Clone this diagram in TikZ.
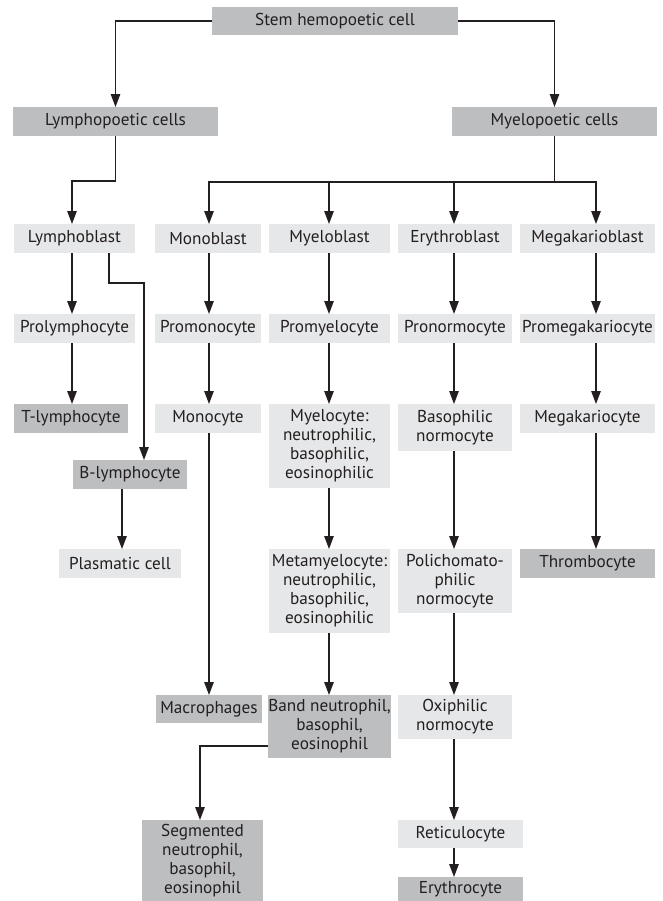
\documentclass[tikz,border=0pt]{standalone}
\usepackage{fontspec}
\setmainfont{PT Sans}
\usetikzlibrary{arrows.meta}
\definecolor{lightbox}{HTML}{E6E7E8}
\definecolor{darkbox}{HTML}{BCBEC0}
\definecolor{inkc}{HTML}{231F20}
\begin{document}
\begin{tikzpicture}[x=1bp,y=-1bp,
  box/.style={inner sep=0pt, outer sep=0pt, align=center, text=inkc,
    font=\fontsize{17.2bp}{18.9bp}\selectfont},
  lt/.style={box, fill=lightbox},
  dk/.style={box, fill=darkbox},
  wire/.style={draw=inkc, line width=1.2bp},
  arr/.style={wire, -{Triangle[length=13bp,width=9.5bp]}},
  darr/.style={wire, {Triangle[length=13bp,width=9.5bp]}-{Triangle[length=13bp,width=9.5bp]}}
]
\useasboundingbox (0,0) rectangle (663,901);
\fill[white] (0,0) rectangle (663,901);

% top level
\node[dk, minimum width=246bp, minimum height=28bp] (stem) at (335,21) {Stem hemopoetic cell};
\node[dk, minimum width=205bp, minimum height=29bp] (lymph) at (115.5,121.5) {Lymphopoetic cells};
\node[dk, minimum width=205bp, minimum height=29bp] (myelo) at (554.5,121.5) {Myelopoetic cells};

% row 1
\node[lt, minimum width=121bp, minimum height=29bp] (lblast) at (74.5,238.5) {Lymphoblast};
\node[lt, minimum width=106bp, minimum height=29bp] (mblast) at (208,238.5) {Monoblast};
\node[lt, minimum width=121bp, minimum height=29bp] (myblast) at (329.5,238.5) {Myeloblast};
\node[lt, minimum width=114bp, minimum height=29bp] (eblast) at (455,238.5) {Erythroblast};
\node[lt, minimum width=135bp, minimum height=29bp] (mkblast) at (587.5,238.5) {Megakarioblast};

% row 2
\node[lt, minimum width=121bp, minimum height=29bp] (prolym) at (74.5,328.5) {Prolymphocyte};
\node[lt, minimum width=106bp, minimum height=29bp] (promono) at (208,328.5) {Promonocyte};
\node[lt, minimum width=121bp, minimum height=29bp] (promy) at (329.5,328.5) {Promyelocyte};
\node[lt, minimum width=114bp, minimum height=29bp] (pronorm) at (455,328.5) {Pronormocyte};
\node[lt, minimum width=135bp, minimum height=29bp] (promk) at (587.5,328.5) {Promegakariocyte};

% row 3
\node[dk, minimum width=114bp, minimum height=29bp] (tlym) at (71,418.5) {T-lymphocyte};
\node[lt, minimum width=106bp, minimum height=29bp] (mono) at (208,418.5) {Monocyte};
\node[lt, minimum width=121bp, minimum height=84bp] (myelocyte) at (329.5,446) {Myelocyte:\\neutrophilic,\\basophilic,\\eosinophilic};
\node[lt, minimum width=114bp, minimum height=47bp] (basnorm) at (455,427.5) {Basophilic\\normocyte};
\node[lt, minimum width=135bp, minimum height=29bp] (mkcyte) at (587.5,418.5) {Megakariocyte};
\node[dk, minimum width=114bp, minimum height=29bp] (blym) at (130,474.5) {B-lymphocyte};

% row 4
\node[lt, minimum width=122bp, minimum height=29bp] (plasma) at (120,563.5) {Plasmatic cell};
\node[lt, minimum width=121bp, minimum height=84bp] (meta) at (329.5,591) {Metamyelocyte:\\neutrophilic,\\basophilic,\\eosinophilic};
\node[lt, minimum width=114bp, minimum height=64bp] (poli) at (455,581) {Polichomato-\\philic\\normocyte};
\node[dk, minimum width=135bp, minimum height=29bp] (thromb) at (587.5,563.5) {Thrombocyte};

% row 5
\node[dk, minimum width=106bp, minimum height=28bp] (macro) at (209,709) {Macrophages};
\node[dk, minimum width=121bp, minimum height=63bp] (band) at (329.5,726.5) {Band neutrophil,\\basophil,\\eosinophil};
\node[lt, minimum width=114bp, minimum height=44bp] (oxi) at (455,717) {Oxiphilic\\normocyte};

% bottom
\node[dk, minimum width=121bp, minimum height=81bp] (seg) at (202.5,860.5) {Segmented\\neutrophil,\\basophil,\\eosinophil};
\node[lt, minimum width=125bp, minimum height=28bp] (reti) at (460.5,834) {Reticulocyte};
\node[dk, minimum width=125bp, minimum height=24bp] (ery) at (460.5,889) {Erythrocyte};

% helper coordinates
\coordinate (lbus) at (0,181);
\coordinate (mbus) at (0,182);
\coordinate (bj) at (0,283);
\coordinate (sj) at (0,746);
\coordinate (c1) at (72,0);
\coordinate (c1b) at (109,0);
\coordinate (c1c) at (144,0);
\coordinate (c1p) at (122,0);
\coordinate (c2) at (209,0);
\coordinate (c3) at (329,0);
\coordinate (c4) at (454,0);
\coordinate (c5) at (596,0);
\coordinate (c6) at (200,0);

% connectors from stem
\draw[arr] (stem.west) -| (lymph.north);
\draw[arr] (stem.east) -| (myelo.north);

% lymphoid branch
\draw[arr] (lymph.south) -- (lymph.south |- lbus) -- (c1 |- lbus) -- (c1 |- lblast.north);
\draw[arr] (c1 |- lblast.south) -- (c1 |- prolym.north);
\draw[arr] (c1 |- prolym.south) -- (c1 |- tlym.north);
\draw[arr] (c1b |- lblast.south) -- (c1b |- bj) -- (c1c |- bj) -- (c1c |- blym.north);
\draw[arr] (c1p |- blym.south) -- (c1p |- plasma.north);

% myeloid bus
\draw[wire] (myelo.south) -- (myelo.south |- mbus);
\draw[darr] (c2 |- mblast.north) -- (c2 |- mbus) -- (c5 |- mbus) -- (c5 |- mkblast.north);
\draw[arr] (c3 |- mbus) -- (c3 |- myblast.north);
\draw[arr] (c4 |- mbus) -- (c4 |- eblast.north);

% monocyte column
\draw[arr] (c2 |- mblast.south) -- (c2 |- promono.north);
\draw[arr] (c2 |- promono.south) -- (c2 |- mono.north);
\draw[arr] (c2 |- mono.south) -- (c2 |- macro.north);

% granulocyte column
\draw[arr] (c3 |- myblast.south) -- (c3 |- promy.north);
\draw[arr] (c3 |- promy.south) -- (c3 |- myelocyte.north);
\draw[arr] (c3 |- myelocyte.south) -- (c3 |- meta.north);
\draw[arr] (c3 |- meta.south) -- (c3 |- band.north);
\draw[arr] (band.west |- sj) -- (c6 |- sj) -- (c6 |- seg.north);

% erythroid column
\draw[arr] (c4 |- eblast.south) -- (c4 |- pronorm.north);
\draw[arr] (c4 |- pronorm.south) -- (c4 |- basnorm.north);
\draw[arr] (c4 |- basnorm.south) -- (c4 |- poli.north);
\draw[arr] (c4 |- poli.south) -- (c4 |- oxi.north);
\draw[arr] (c4 |- oxi.south) -- (c4 |- reti.north);
\draw[arr] (c4 |- reti.south) -- (c4 |- ery.north);

% megakaryocyte column
\draw[arr] (c5 |- mkblast.south) -- (c5 |- promk.north);
\draw[arr] (c5 |- promk.south) -- (c5 |- mkcyte.north);
\draw[arr] (c5 |- mkcyte.south) -- (c5 |- thromb.north);
\end{tikzpicture}
\end{document}
